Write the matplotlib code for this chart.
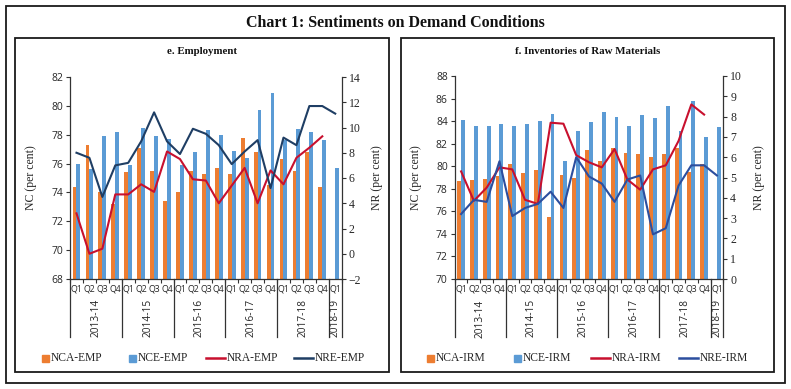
import matplotlib
matplotlib.use('Agg')
import matplotlib.pyplot as plt
from matplotlib.patches import Rectangle
from matplotlib.lines import Line2D
import matplotlib.transforms as mtransforms
import numpy as np

nan = np.nan
quarters = ['Q1', 'Q2', 'Q3', 'Q4'] * 5 + ['Q1']
years = ['2013-14', '2014-15', '2015-16', '2016-17', '2017-18', '2018-19']
year_sizes = [4, 4, 4, 4, 4, 1]

nca_emp = [74.4, 77.3, 74.0, 73.2, 75.4, 77.1, 75.5, 73.4, 74.0, 75.5, 75.3,
           75.7, 75.3, 77.8, 76.8, 74.5, 76.3, 75.5, 76.8, 74.4, nan]
nce_emp = [76.0, 75.6, 77.9, 78.2, 75.9, 78.5, 77.9, 77.7, 75.9, 76.8, 78.3,
           78.0, 76.9, 76.4, 79.7, 80.9, 77.6, 78.4, 78.2, 77.6, 75.7]
nra_emp = [3.2, 0.0, 0.4, 4.7, 4.7, 5.5, 4.9, 8.1, 7.5, 5.9, 5.8,
           4.0, 5.4, 6.8, 4.0, 6.6, 5.5, 7.6, 8.4, 9.3, nan]
nre_emp = [8.0, 7.6, 4.5, 7.0, 7.2, 8.9, 11.2, 8.9, 7.9, 9.9, 9.5,
           8.6, 7.1, 8.1, 9.0, 5.2, 9.2, 8.6, 11.7, 11.7, 11.1]

nca_irm = [78.7, 78.8, 78.9, 79.1, 80.2, 79.4, 79.7, 75.5, 79.2, 79.0, 81.4,
           80.5, 81.6, 81.2, 81.1, 80.8, 81.1, 81.6, 79.5, 80.2, nan]
nce_irm = [84.1, 83.6, 83.6, 83.7, 83.6, 83.7, 84.0, 84.6, 80.5, 83.1, 83.9,
           84.8, 84.4, 83.6, 84.5, 84.3, 85.3, 83.1, 85.8, 82.6, 83.5]
nra_irm = [5.3, 3.85, 4.5, 5.5, 5.4, 3.9, 3.7, 7.7, 7.65, 6.1, 5.75,
           5.5, 6.4, 4.9, 4.4, 5.4, 5.6, 6.8, 8.6, 8.1, nan]
nre_irm = [3.2, 3.9, 3.8, 5.8, 3.1, 3.5, 3.7, 4.3, 3.5, 6.0, 5.05,
           4.7, 3.8, 4.9, 5.1, 2.2, 2.5, 4.6, 5.6, 5.6, 5.1]

C_ORANGE = '#ED7D31'
C_BLUE = '#5B9BD5'
C_RED = '#C8102E'
C_NAVY_EMP = '#1F3E64'
C_NAVY_IRM = '#2C4E9E'
TXT = '#262626'

W, H = 791, 389
fig = plt.figure(figsize=(W / 100, H / 100), dpi=100)


def fx(px):
    return px / W


def fy(py):
    return 1 - py / H


def frame(x0, y0, x1, y1, lw=1.3):
    fig.patches.append(Rectangle((fx(x0), fy(y1)), fx(x1) - fx(x0), fy(y0) - fy(y1),
                                 transform=fig.transFigure, fill=False,
                                 edgecolor='#1a1a1a', linewidth=lw))


frame(6, 6, 785, 383)
frame(15, 38, 389, 372)
frame(401, 38, 774, 372)

fig.text(fx(395), fy(23), 'Chart 1: Sentiments on Demand Conditions',
         ha='center', va='center', family='Liberation Serif', weight='bold',
         fontsize=11.5, color='#111111')


def panel(left_px, right_px, top_px, title, title_x, nca, nce, nra, nre,
          ylim, yticks, y2lim, y2ticks, navy, names, lab_left, lab_right):
    ax = fig.add_axes([fx(left_px), fy(279), fx(right_px) - fx(left_px), fy(top_px) - fy(279)])
    x = np.arange(len(quarters))
    bw = 0.3
    ax.bar(x - bw / 2, nca, width=bw, color=C_ORANGE, zorder=2)
    ax.bar(x + bw / 2, nce, width=bw, color=C_BLUE, zorder=2)
    ax.set_xlim(-0.5, len(quarters) - 0.5)
    ax.set_ylim(*ylim)
    ax.set_yticks(yticks)
    ax.set_xticks(np.arange(-0.5, len(quarters), 1.0))
    ax.set_xticklabels([])
    ax.tick_params(axis='x', length=3, width=0.8, direction='out', color='#333333')
    ax.tick_params(axis='y', length=3, width=0.8, direction='out', color='#333333',
                   labelsize=7.5, labelcolor=TXT, pad=2)
    for lab in ax.get_yticklabels():
        lab.set_family('Open Sans')
    for s in ['top', 'right']:
        ax.spines[s].set_visible(False)
    for s in ['left', 'bottom']:
        ax.spines[s].set_linewidth(0.9)
        ax.spines[s].set_color('#333333')
    ax.set_ylabel('NC (per cent)', family='Liberation Serif', fontsize=8.5, color=TXT,
                  labelpad=lab_left)

    ax2 = ax.twinx()
    ax2.plot(x, nra, color=C_RED, lw=1.5, zorder=3)
    ax2.plot(x, nre, color=navy, lw=1.5, zorder=3)
    ax2.set_ylim(*y2lim)
    ax2.set_yticks(y2ticks)
    ax2.tick_params(axis='y', length=3, width=0.8, direction='out', color='#333333',
                    labelsize=8.5, labelcolor=TXT, pad=2)
    for lab in ax2.get_yticklabels():
        lab.set_family('Liberation Serif')
    for s in ['top', 'left', 'bottom']:
        ax2.spines[s].set_visible(False)
    ax2.spines['right'].set_linewidth(0.9)
    ax2.spines['right'].set_color('#333333')
    ax2.set_ylabel('NR (per cent)', family='Liberation Serif', fontsize=8.5, color=TXT,
                   labelpad=lab_right)

    trans = mtransforms.blended_transform_factory(ax.transData, ax.transAxes)
    for i, q in enumerate(quarters):
        ax.text(i, -0.05, q, transform=trans, ha='center', va='center',
                family='Open Sans', fontsize=6.3, color=TXT, clip_on=False)
    sep_bottom = -(337 - 279) / (279 - top_px)
    start = 0
    bounds = [-0.5]
    for yr, n in zip(years, year_sizes):
        mid = start + (n - 1) / 2
        ax.text(mid, -0.10, yr, transform=trans, ha='center', va='top', rotation=90,
                family='Open Sans', fontsize=7.3, color=TXT, clip_on=False)
        start += n
        bounds.append(start - 0.5)
    for b in bounds:
        ax.add_line(Line2D([b, b], [0, sep_bottom], transform=trans, color='#333333',
                           lw=0.9, clip_on=False))

    # panel title
    fig.text(fx(title_x), fy(52), title, ha='center', va='center',
             family='Liberation Serif', weight='bold', fontsize=7.8, color='#111111')

    # legend
    base = left_px - 55
    ly = fy(358)
    sq = 7
    colors = [C_ORANGE, C_BLUE]
    offs = [27, 114]
    for c, o, nm in zip(colors, offs, names[:2]):
        fig.patches.append(Rectangle((fx(base + o), fy(358 + sq / 2)), fx(sq), sq / H,
                                     transform=fig.transFigure, color=c))
        fig.text(fx(base + o + sq + 2), ly, nm, ha='left', va='center',
                 family='Liberation Serif', fontsize=8.3, color=TXT)
    for c, o, nm in zip([C_RED, navy], [191, 279], names[2:]):
        fig.lines.append(Line2D([fx(base + o), fx(base + o + 19)], [ly, ly],
                                transform=fig.transFigure, color=c, lw=1.8))
        fig.text(fx(base + o + 21), ly, nm, ha='left', va='center',
                 family='Liberation Serif', fontsize=8.3, color=TXT)
    return ax, ax2


panel(70, 341.7, 77, 'e. Employment', 202, nca_emp, nce_emp, nra_emp, nre_emp,
      (68, 82), np.arange(68, 83, 2), (-2, 14), np.arange(-2, 15, 2), C_NAVY_EMP,
      ['NCA-EMP', 'NCE-EMP', 'NRA-EMP', 'NRE-EMP'], 10, 7)
panel(454.7, 723.3, 76, 'f. Inventories of Raw Materials', 588, nca_irm, nce_irm, nra_irm, nre_irm,
      (70, 88), np.arange(70, 89, 2), (0, 10), np.arange(0, 11, 1), C_NAVY_IRM,
      ['NCA-IRM', 'NCE-IRM', 'NRA-IRM', 'NRE-IRM'], 10, 8)

fig.savefig('out.png', dpi=100)
